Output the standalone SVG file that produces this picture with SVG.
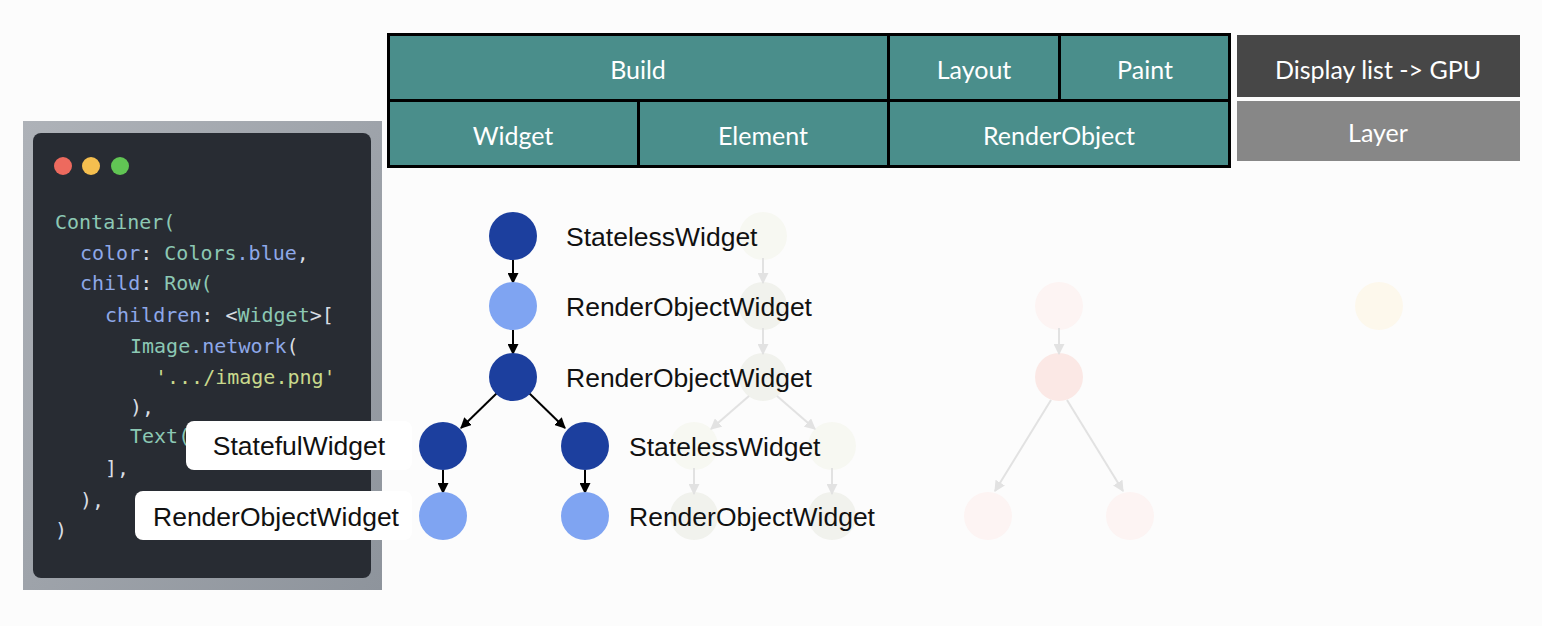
<svg xmlns="http://www.w3.org/2000/svg" width="1542" height="626" viewBox="0 0 1542 626">
<defs>
<marker id="ah" viewBox="0 0 10 10" refX="9" refY="5" markerWidth="5.5" markerHeight="5.5" orient="auto" markerUnits="strokeWidth"><path d="M0,0 L10,5 L0,10 z" fill="#000"/></marker>
<marker id="ahf" viewBox="0 0 10 10" refX="9" refY="5" markerWidth="5.5" markerHeight="5.5" orient="auto" markerUnits="strokeWidth"><path d="M0,0 L10,5 L0,10 z" fill="#e2e2e2"/></marker>
<linearGradient id="frame" x1="0" y1="0" x2="1" y2="1"><stop offset="0" stop-color="#aeb2b8"/><stop offset="1" stop-color="#8e949c"/></linearGradient>
</defs>
<style>
.hdr{fill:#4a8e8b;stroke:#000;stroke-width:3}
.ht{font-family:Lato,"Open Sans",sans-serif;font-size:25px;fill:#fff;text-anchor:middle;dominant-baseline:central}
.code{font-family:"DejaVu Sans Mono",monospace;font-size:20px}
.k{fill:#8cc8b4}.p{fill:#8ea8e8}.w{fill:#d8dde3}.s{fill:#c9d98c}
.lbl{font-family:"Liberation Sans",Arial,sans-serif;font-size:26.5px;fill:#111;dominant-baseline:central}
.dk{fill:#1c3f9e}.lt{fill:#7fa4f2}
.e{stroke:#000;stroke-width:2;fill:none;marker-end:url(#ah)}
.ef{stroke:#e2e2e2;stroke-width:2;fill:none;marker-end:url(#ahf)}
</style>
<rect width="1542" height="626" fill="#fcfcfc"/>

<g id="header">
<rect class="hdr" x="388.5" y="34.5" width="500" height="66"/>
<rect class="hdr" x="888.5" y="34.5" width="171" height="66"/>
<rect class="hdr" x="1059.5" y="34.5" width="170" height="66"/>
<rect class="hdr" x="388.5" y="100.5" width="250" height="66"/>
<rect class="hdr" x="638.5" y="100.5" width="250" height="66"/>
<rect class="hdr" x="888.5" y="100.5" width="341" height="66"/>
<text class="ht" x="638" y="69">Build</text>
<text class="ht" x="974" y="69">Layout</text>
<text class="ht" x="1145" y="69">Paint</text>
<text class="ht" x="513" y="135">Widget</text>
<text class="ht" x="763" y="135">Element</text>
<text class="ht" x="1059" y="135">RenderObject</text>
</g>
<g id="gpu">
<rect x="1237" y="35" width="283" height="62" fill="#474747"/>
<text class="ht" x="1378" y="69">Display list -&gt; GPU</text>
</g>
<g id="layer">
<rect x="1237" y="101" width="283" height="60" fill="#878787"/>
<text class="ht" x="1378" y="132">Layer</text>
</g>

<g id="code">
<rect x="23" y="121" width="359" height="469" fill="url(#frame)"/>
<rect x="33" y="133" width="338" height="445" rx="8" fill="#282c33"/>
<circle cx="63" cy="166" r="9" fill="#ed6a5e"/>
<circle cx="91" cy="166" r="9" fill="#f5bf4f"/>
<circle cx="120" cy="166" r="9" fill="#61c554"/>
<text class="code" x="55" y="229"><tspan class="k">Container(</tspan></text>
<text class="code" x="80" y="260"><tspan class="p">color</tspan><tspan class="w">: </tspan><tspan class="k">Colors</tspan><tspan class="p">.blue</tspan><tspan class="w">,</tspan></text>
<text class="code" x="80" y="290"><tspan class="p">child</tspan><tspan class="w">: </tspan><tspan class="k">Row(</tspan></text>
<text class="code" x="105" y="322"><tspan class="p">children</tspan><tspan class="w">: &lt;</tspan><tspan class="k">Widget</tspan><tspan class="w">&gt;[</tspan></text>
<text class="code" x="130" y="353"><tspan class="k">Image</tspan><tspan class="p">.network</tspan><tspan class="w">(</tspan></text>
<text class="code" x="155" y="384"><tspan class="s">'.../image.png'</tspan></text>
<text class="code" x="130" y="414"><tspan class="w">),</tspan></text>
<text class="code" x="130" y="443"><tspan class="k">Text(</tspan></text>
<text class="code" x="105" y="475"><tspan class="w">],</tspan></text>
<text class="code" x="80" y="507"><tspan class="w">),</tspan></text>
<text class="code" x="55" y="537"><tspan class="w">)</tspan></text>
</g>

<g id="faint-trees">
<circle cx="763" cy="236" r="24" fill="#f7f8f2"/>
<circle cx="763" cy="306" r="24" fill="#f1f2ed"/>
<circle cx="763" cy="377" r="24" fill="#f1f2ed"/>
<circle cx="694" cy="446" r="24" fill="#f7f8f2"/>
<circle cx="832" cy="446" r="24" fill="#f7f8f2"/>
<circle cx="694" cy="516" r="24" fill="#f1f2ed"/>
<circle cx="832" cy="516" r="24" fill="#f1f2ed"/>
<circle cx="1059" cy="306" r="24" fill="#fdf4f3"/>
<circle cx="1059" cy="377" r="24" fill="#fbe8e5"/>
<circle cx="988" cy="516" r="24" fill="#fdf4f3"/>
<circle cx="1130" cy="516" r="24" fill="#fdf4f3"/>
<circle cx="1379" cy="306" r="24" fill="#fdf8ec"/>
</g>

<g id="connectors">
<path class="ef" d="M763,258 V283"/>
<path class="ef" d="M763,328 V354"/>
<path class="ef" d="M749,396 L711,429"/>
<path class="ef" d="M777,396 L815,429"/>
<path class="ef" d="M694,468 V494"/>
<path class="ef" d="M832,468 V494"/>
<path class="ef" d="M1059,328 V354"/>
<path class="ef" d="M1051,400 L995,491"/>
<path class="ef" d="M1067,400 L1123,491"/>
<path class="e" d="M513,260 V283"/>
<path class="e" d="M513,330 V354"/>
<path class="e" d="M497,393 L461,428"/>
<path class="e" d="M529,393 L565,428"/>
<path class="e" d="M443,470 V493"/>
<path class="e" d="M585,470 V493"/>
</g>

<g id="n-root"><circle class="dk" cx="513" cy="236" r="24"/><text class="lbl" x="566" y="237">StatelessWidget</text></g>
<g id="n-row"><circle class="lt" cx="513" cy="306" r="24"/><text class="lbl" x="566" y="307">RenderObjectWidget</text></g>
<g id="n-row2"><circle class="dk" cx="513" cy="377" r="24"/><text class="lbl" x="566" y="378">RenderObjectWidget</text></g>
<g id="n-stateful">
<rect x="186" y="421" width="226" height="49" rx="8" fill="#fff"/>
<text class="lbl" x="299" y="446" text-anchor="middle">StatefulWidget</text>
<circle class="dk" cx="443" cy="446" r="24"/>
</g>
<g id="n-ro-left">
<rect x="135" y="491" width="277" height="49" rx="8" fill="#fff"/>
<text class="lbl" x="276" y="517" text-anchor="middle">RenderObjectWidget</text>
<circle class="lt" cx="443" cy="516" r="24"/>
</g>
<g id="n-stateless2"><circle class="dk" cx="585" cy="446" r="24"/><text class="lbl" x="629" y="447">StatelessWidget</text></g>
<g id="n-ro-right"><circle class="lt" cx="585" cy="516" r="24"/><text class="lbl" x="629" y="517">RenderObjectWidget</text></g>
</svg>
